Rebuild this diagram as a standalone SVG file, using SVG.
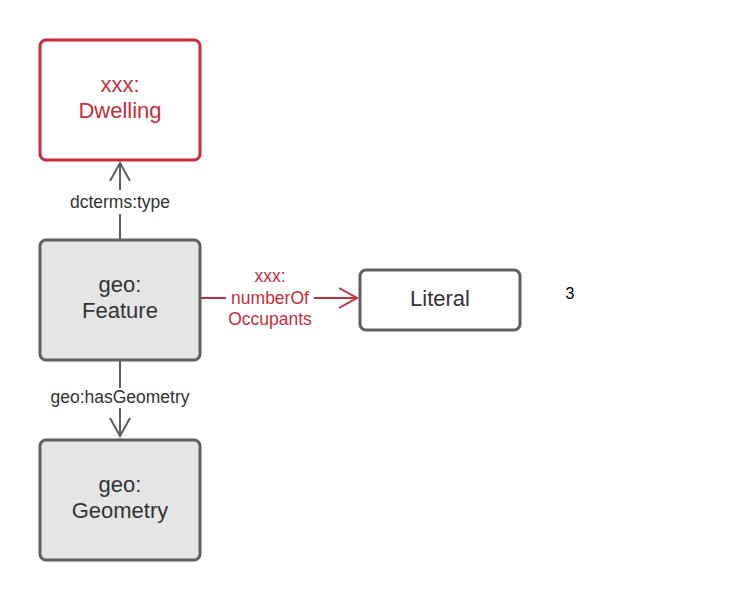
<svg xmlns="http://www.w3.org/2000/svg" width="740" height="600" viewBox="0 0 740 600">
<style>
.box{stroke-width:3;}
.grey{fill:#e5e5e5;stroke:#5e5e5e;}
.white{fill:#ffffff;stroke:#5e5e5e;}
.red{fill:#ffffff;stroke:#c92d39;}
text{font-family:"Liberation Sans",Arial,sans-serif;text-anchor:middle;}
.nt{font-size:22px;fill:#333333;}
.rt{font-size:22px;fill:#c92d39;}
.el{font-size:17.5px;fill:#333333;}
.erl{font-size:17.5px;fill:#c92d39;}
.ln{fill:none;stroke:#5e5e5e;stroke-width:2;}
.lr{fill:none;stroke:#c92d39;stroke-width:2;}
</style>
<rect width="740" height="600" fill="#ffffff"/>
<g id="connectors">
<g id="e-type">
<path class="ln" d="M120,240 V214 M120,190 V163"/>
<path class="ln" d="M110,181 L120,163 L130,181"/>
<text class="el" x="120" y="208">dcterms:type</text>
</g>
<g id="e-geom">
<path class="ln" d="M120,360 V388 M120,408 V436"/>
<path class="ln" d="M110,418 L120,436 L130,418"/>
<text class="el" x="120" y="403">geo:hasGeometry</text>
</g>
<g id="e-occ">
<path class="lr" d="M201,298 H226 M314,298 H357"/>
<path class="lr" d="M339,288 L357,298 L339,308"/>
<text class="erl" x="270" y="282">xxx:</text>
<text class="erl" x="270" y="304">numberOf</text>
<text class="erl" x="270" y="325">Occupants</text>
</g>
</g>
<g id="dwelling">
<rect class="box red" x="40" y="40" width="160" height="120" rx="6"/>
<text class="rt" x="120" y="92">xxx:</text>
<text class="rt" x="120" y="118">Dwelling</text>
</g>
<g id="feature">
<rect class="box grey" x="40" y="240" width="160" height="120" rx="6"/>
<text class="nt" x="120" y="292">geo:</text>
<text class="nt" x="120" y="318">Feature</text>
</g>
<g id="geometry">
<rect class="box grey" x="40" y="440" width="160" height="120" rx="6"/>
<text class="nt" x="120" y="492">geo:</text>
<text class="nt" x="120" y="518">Geometry</text>
</g>
<g id="literal">
<rect class="box white" x="360" y="270" width="160" height="60" rx="6"/>
<text class="nt" x="440" y="306">Literal</text>
</g>
<text x="570" y="299" style="font-size:16px;fill:#000000;">3</text>
</svg>
